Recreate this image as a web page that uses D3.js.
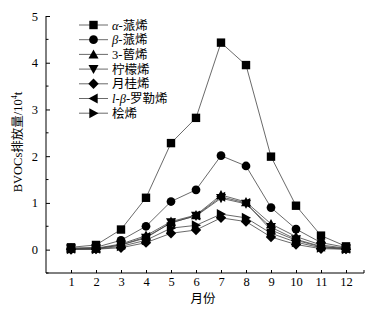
<!DOCTYPE html>
<html><head><meta charset="utf-8">
<script src="https://cdn.jsdelivr.net/npm/d3@7"></script>
<style>body{margin:0;background:#fff}</style>
</head><body>
<svg id="c" width="384" height="313"></svg>
<script>
const months = [1,2,3,4,5,6,7,8,9,10,11,12];
const yTicks = [0,1,2,3,4,5];
const alphaPinene = [0.05,0.1,0.43,1.11,2.28,2.82,4.43,3.95,1.99,0.94,0.30,0.07];
const betaPinene  = [0.03,0.05,0.2,0.5,1.03,1.28,2.01,1.79,0.9,0.44,0.15,0.05];
const carene      = [0.03,0.03,0.12,0.3,0.6,0.74,1.17,1.02,0.55,0.28,0.1,0.03];
const limonene    = [0.02,0.02,0.1,0.25,0.58,0.72,1.1,0.98,0.48,0.22,0.07,0.02];
const myrcene     = [0.0,0.01,0.04,0.15,0.35,0.42,0.68,0.6,0.27,0.11,0.02,0.01];
const ocimene     = [0.02,0.02,0.1,0.27,0.57,0.73,1.13,1.0,0.42,0.2,0.06,0.02];
const sabinene    = [0.01,0.01,0.07,0.2,0.46,0.52,0.76,0.68,0.35,0.16,0.04,0.01];

const series = [
  {name:[["α","i"],["-蒎烯",""]], values:alphaPinene, sym:"square"},
  {name:[["β","i"],["-蒎烯",""]], values:betaPinene, sym:"circle"},
  {name:[["3-蒈烯",""]], values:carene, sym:"up"},
  {name:[["柠檬烯",""]], values:limonene, sym:"down"},
  {name:[["月桂烯",""]], values:myrcene, sym:"diamond"},
  {name:[["l","i"],["-",""],["β","i"],["-罗勒烯",""]], values:ocimene, sym:"left"},
  {name:[["桧烯",""]], values:sabinene, sym:"right"}
];

const svg = d3.select("#c");
const font = "'Liberation Serif','Noto Sans CJK SC',serif";
const x = d3.scaleLinear().domain([0,12.72]).range([46,364]);
const y = d3.scaleLinear().domain([-0.5,5]).range([273,16]);

function symPath(s){
  const r=4.2;
  switch(s){
    case "square": return `M${-r},${-r}h${2*r}v${2*r}h${-2*r}Z`;
    case "circle": return d3.symbol(d3.symbolCircle, 60)();
    case "up": return `M0,${-r-0.8}L${r+0.8},${r}L${-r-0.8},${r}Z`;
    case "down": return `M0,${r+0.8}L${r+0.8},${-r}L${-r-0.8},${-r}Z`;
    case "diamond": return `M0,${-r-1}L${r+1},0L0,${r+1}L${-r-1},0Z`;
    case "left": return `M${-r-0.8},0L${r},${-r-0.8}L${r},${r+0.8}Z`;
    case "right": return `M${r+0.8},0L${-r},${-r-0.8}L${-r},${r+0.8}Z`;
  }
}

// axes
const gx = svg.append("g").attr("transform",`translate(0,${y(-0.5)})`)
  .call(d3.axisBottom(x).tickValues(months).tickSize(-3).tickPadding(4).tickFormat(d3.format("d")));
gx.select(".domain").attr("d",`M${x(0)},0H${x(12.72)}`);
gx.append("line").attr("x1",x(12.72)).attr("x2",x(12.72)).attr("y1",0).attr("y2",-3).attr("stroke","#000");
const gy = svg.append("g").attr("transform",`translate(${x(0)},0)`)
  .call(d3.axisLeft(y).tickValues(yTicks).tickSize(-4).tickPadding(8).tickFormat(d3.format("d")));
gy.select(".domain").attr("d",`M0,${y(-0.5)}V${y(5)}`);
gy.selectAll(".minor").data([-0.5,0.5,1.5,2.5,3.5,4.5]).enter().append("line")
  .attr("x1",0).attr("x2",2.5).attr("y1",d=>y(d)).attr("y2",d=>y(d)).attr("stroke","#000");
svg.selectAll(".domain,.tick line").attr("stroke","#000").attr("stroke-width",1);
svg.selectAll(".tick text").attr("font-family",font).attr("font-size",12.5).attr("fill","#000");

// labels
svg.append("text").attr("x",203).attr("y",303).attr("text-anchor","middle")
  .attr("font-family",font).attr("font-size",12.5).text("月份");
const yl = svg.append("text").attr("transform",`translate(22,142) rotate(-90)`).attr("text-anchor","middle")
  .attr("font-family",font).attr("font-size",12.5);
yl.append("tspan").text("BVOCs排放量/10");
yl.append("tspan").attr("font-size",8).attr("dy",-5).text("4");
yl.append("tspan").attr("dy",5).text("t");

// lines and markers
const line = d3.line().x((d,i)=>x(months[i])).y(d=>y(d));
series.slice().reverse().forEach(s=>{
  svg.append("path").attr("d",line(s.values)).attr("fill","none").attr("stroke","#444").attr("stroke-width",0.8);
});
series.slice().reverse().forEach(s=>{
  svg.selectAll(null).data(s.values).enter().append("path")
    .attr("d",symPath(s.sym)).attr("transform",(d,i)=>`translate(${x(months[i])},${y(d)})`).attr("fill","#000");
});

// legend
series.forEach((s,i)=>{
  const yy = 25 + i*14.7;
  const g = svg.append("g");
  g.append("line").attr("x1",79).attr("x2",108).attr("y1",yy).attr("y2",yy).attr("stroke","#444").attr("stroke-width",0.8);
  g.append("path").attr("d",symPath(s.sym)).attr("transform",`translate(93.5,${yy})`).attr("fill","#000");
  const t = g.append("text").attr("x",112).attr("y",yy+4.5).attr("font-family",font).attr("font-size",12.5);
  s.name.forEach(p=>t.append("tspan").attr("font-style",p[1]==="i"?"italic":"normal").text(p[0]));
});
</script>
</body></html>
